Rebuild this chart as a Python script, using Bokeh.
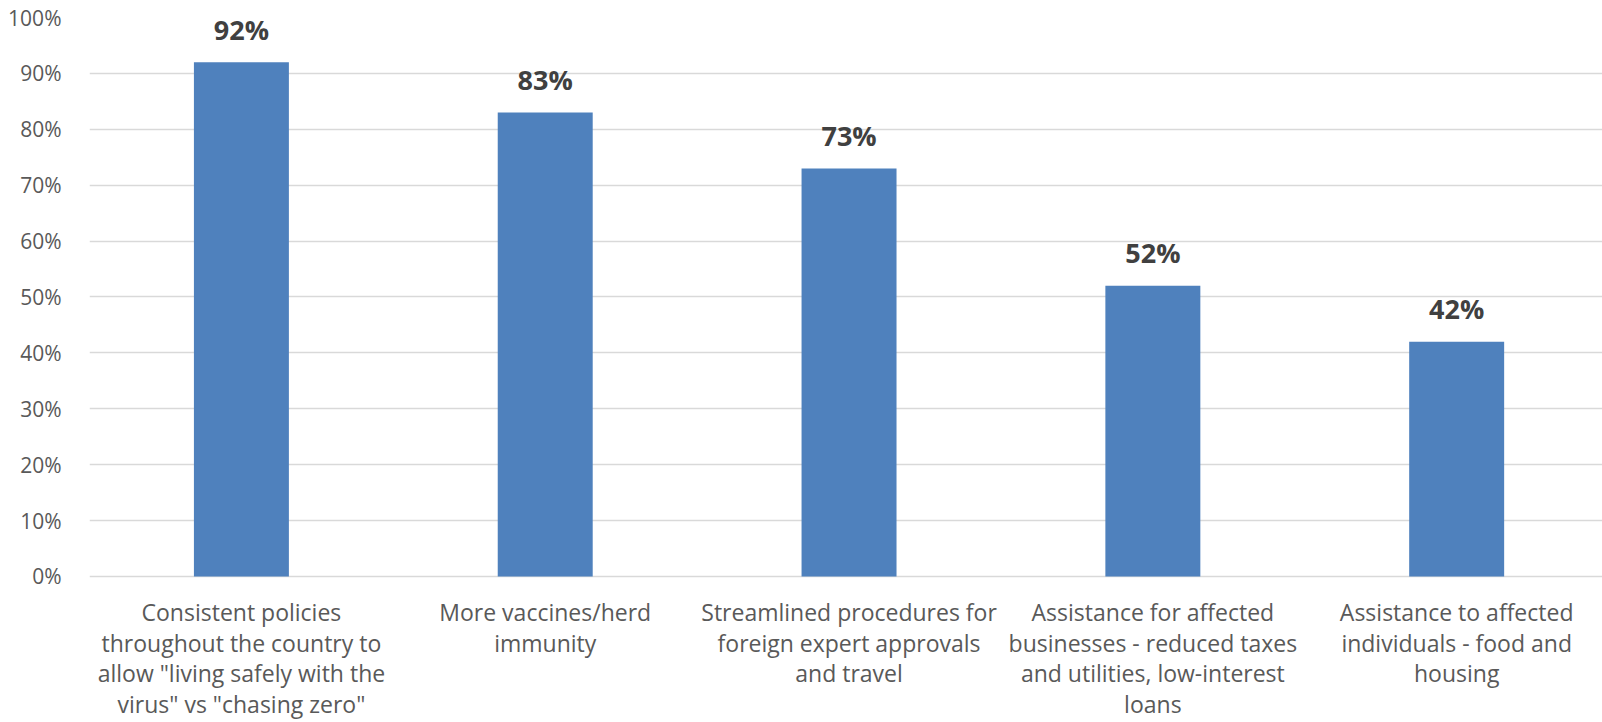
from bokeh.plotting import figure
from bokeh.models import ColumnDataSource, NumeralTickFormatter, Range1d, FixedTicker
from bokeh.core.properties import value
from bokeh.embed import file_html
from bokeh.resources import INLINE

categories = [
    ["Consistent policies", "throughout the country to", "allow \"living safely with the", "virus\" vs \"chasing zero\""],
    ["More vaccines/herd", "immunity"],
    ["Streamlined procedures for", "foreign expert approvals", "and travel"],
    ["Assistance for affected", "businesses - reduced taxes", "and utilities, low-interest", "loans"],
    ["Assistance to affected", "individuals - food and", "housing"],
]
values = [0.92, 0.83, 0.73, 0.52, 0.42]
value_labels = ["92%", "83%", "73%", "52%", "42%"]
y_ticks = [0.0, 0.1, 0.2, 0.3, 0.4, 0.5, 0.6, 0.7, 0.8, 0.9, 1.0]

xs = [i + 0.5 for i in range(len(values))]

p = figure(width=1602, height=722, output_backend="svg", toolbar_location=None,
           x_range=Range1d(0, 4.98), y_range=Range1d(-0.2612, 1.0),
           min_border_left=89, min_border_right=0, min_border_top=17, min_border_bottom=0)
p.outline_line_color = None
p.background_fill_color = "white"

bars = ColumnDataSource(dict(x=xs, top=values, label=value_labels))
p.vbar(x="x", top="top", bottom=0, width=0.3126, source=bars, fill_color="#4F81BD", line_color=None)

p.text(x="x", y="top", text="label", source=bars, text_align="center", text_baseline="alphabetic",
       y_offset=-33, text_font=value("Open Sans"), text_font_style="bold",
       text_font_size="27px", text_color="#404040")

# category labels (multi-line), drawn below the 0% line
lx, ly, lt, lo = [], [], [], []
for i, lines in enumerate(categories):
    for j, t in enumerate(lines):
        lx.append(xs[i]); ly.append(0.0); lt.append(t); lo.append(20 + 30.5 * j)
cat_src = ColumnDataSource(dict(x=lx, y=ly, text=lt, yo=lo))
p.text(x="x", y="y", text="text", y_offset="yo", source=cat_src,
       text_align="center", text_baseline="top",
       text_font=value("Open Sans"), text_font_size="23px", text_color="#595959")

p.xaxis.visible = False
p.xgrid.grid_line_color = None
p.ygrid.grid_line_color = "#d9d9d9"
p.ygrid.grid_line_width = 1.3
p.ygrid.ticker = FixedTicker(ticks=y_ticks)

p.yaxis.ticker = FixedTicker(ticks=y_ticks)
p.yaxis.formatter = NumeralTickFormatter(format="0%")
p.yaxis.axis_line_color = None
p.yaxis.major_tick_line_color = None
p.yaxis.minor_tick_line_color = None
p.yaxis.major_label_text_font = "Open Sans"
p.yaxis.major_label_text_font_size = "21px"
p.yaxis.major_label_text_color = "#595959"
p.yaxis.major_label_standoff = 22

open("out.html", "w").write(file_html(p, INLINE))
